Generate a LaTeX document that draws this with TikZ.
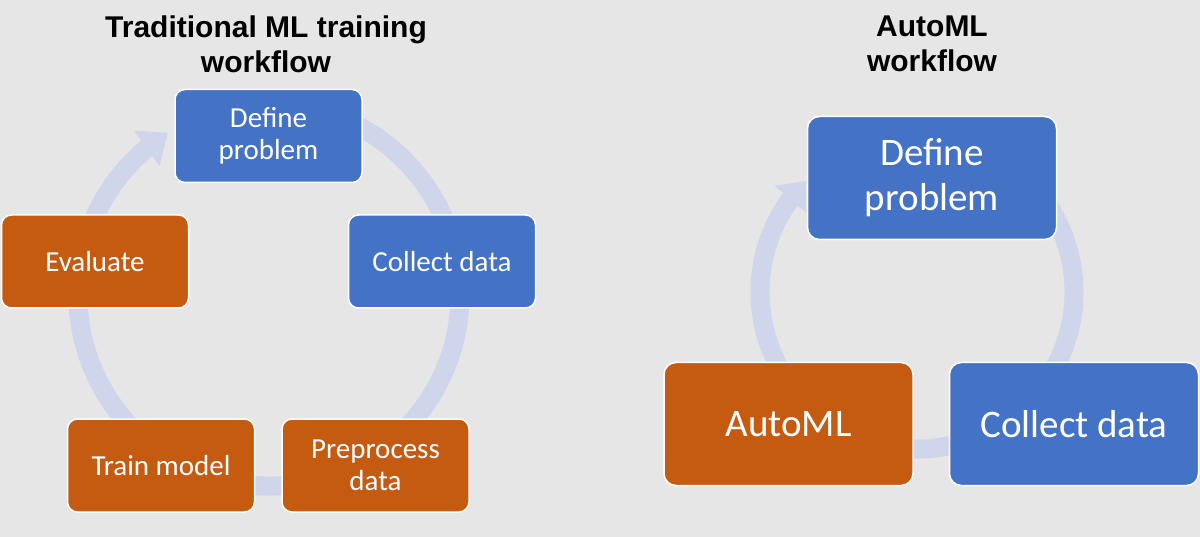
\documentclass[tikz,border=0pt]{standalone}
\usepackage{fontspec}
\setmainfont{Carlito}
\newfontfamily\titlefont{Liberation Sans}
\usetikzlibrary{arrows.meta,bending}
\definecolor{bgc}{HTML}{E7E6E6}
\definecolor{bluec}{HTML}{4472C4}
\definecolor{orangec}{HTML}{C55A11}
\definecolor{ringc}{HTML}{CFD5EA}
\tikzset{
  boxs/.style={draw=white, line width=1.5pt, rounded corners=10pt, text=white, align=center,
    minimum width=187pt, minimum height=93pt, inner sep=0pt,
    font=\fontsize{29}{32}\selectfont},
  bigbox/.style={boxs, rounded corners=12pt, minimum width=249pt, minimum height=123pt,
    font=\fontsize{39}{45}\selectfont},
  bluebox/.style={fill=bluec},
  orangebox/.style={fill=orangec},
  ring/.style={draw=ringc, line width=19pt},
  titles/.style={align=center, font=\titlefont\fontsize{30}{35}\selectfont\bfseries},
}
\begin{document}
\begin{tikzpicture}[x=1pt,y=-1pt]
\fill[bgc] (0,0) rectangle (1200,537);
\useasboundingbox (0,0) rectangle (1200,537);
% rings
\draw[ring, -{Triangle[width=42pt,length=26pt,flex]}] (269,295) ++(-75:191) arc[start angle=-75, end angle=238, radius=191];
\draw[ring, -{Triangle[width=40pt,length=24pt,flex]}] (917,292) ++(-60:157) arc[start angle=-60, end angle=225, radius=157];
% titles
\node[titles] (t1) at (266,44) {Traditional ML training\\workflow};
\node[titles] (t2) at (932,44) {AutoML\\workflow};
% left boxes
\node[boxs, bluebox] (def1) at (268.5,136) {Define\\problem};
\node[boxs, bluebox] (col1) at (442,261.5) {Collect data};
\node[boxs, orangebox] (eva1) at (95,261.5) {Evaluate};
\node[boxs, orangebox] (tra1) at (161,465.5) {Train model};
\node[boxs, orangebox] (pre1) at (375.5,465.5) {Preprocess\\data};
% right boxes
\node[bigbox, bluebox] (def2) at (932,178) {Define\\problem};
\node[bigbox, orangebox] (aut2) at (788.5,424) {AutoML};
\node[bigbox, bluebox] (col2) at (1074,424) {Collect data};
\end{tikzpicture}
\end{document}
